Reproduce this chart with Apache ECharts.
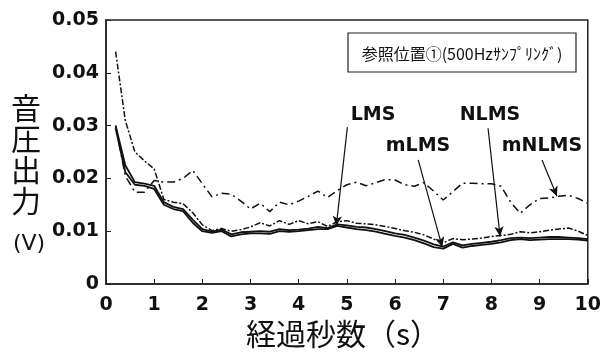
<!DOCTYPE html>
<html>
<head>
<meta charset="utf-8">
<script src="https://cdn.jsdelivr.net/npm/echarts@6/dist/echarts.min.js"></script>
<style>html,body{margin:0;padding:0;background:#fff}#c{width:604px;height:358px}</style>
</head>
<body>
<div id="c"></div>
<script>
var times = [0.2,0.4,0.6,0.8,1.0,1.2,1.4,1.6,1.8,2.0,2.2,2.4,2.6,2.8,3.0,3.2,3.4,3.6,3.8,4.0,4.2,4.4,4.6,4.8,5.0,5.2,5.4,5.6,5.8,6.0,6.2,6.4,6.6,6.8,7.0,7.2,7.4,7.6,7.8,8.0,8.2,8.4,8.6,8.8,9.0,9.2,9.4,9.6,9.8,10.0];
var lms = [0.0300,0.0225,0.0193,0.0190,0.0186,0.0155,0.0146,0.0142,0.0122,0.0104,0.0099,0.0103,0.0094,0.0098,0.0099,0.0100,0.0099,0.0104,0.0102,0.0103,0.0105,0.0108,0.0106,0.0113,0.0111,0.0108,0.0107,0.0104,0.0100,0.0096,0.0093,0.0088,0.0082,0.0075,0.0071,0.0079,0.0073,0.0076,0.0078,0.0080,0.0083,0.0087,0.0088,0.0087,0.0088,0.0089,0.0089,0.0088,0.0087,0.0085];
var mlms = [0.0295,0.0212,0.0188,0.0186,0.0180,0.0150,0.0142,0.0138,0.0116,0.0100,0.0097,0.0100,0.0090,0.0094,0.0096,0.0096,0.0095,0.0100,0.0099,0.0100,0.0102,0.0104,0.0104,0.0110,0.0107,0.0104,0.0102,0.0099,0.0095,0.0091,0.0088,0.0083,0.0077,0.0070,0.0067,0.0076,0.0069,0.0072,0.0074,0.0076,0.0079,0.0083,0.0085,0.0083,0.0084,0.0085,0.0085,0.0085,0.0084,0.0082];
var nlms = [0.0440,0.0310,0.0250,0.0233,0.0218,0.0160,0.0155,0.0152,0.0135,0.0112,0.0101,0.0105,0.0100,0.0103,0.0108,0.0116,0.0110,0.0120,0.0113,0.0120,0.0114,0.0118,0.0109,0.0118,0.0120,0.0115,0.0114,0.0112,0.0109,0.0105,0.0101,0.0098,0.0093,0.0085,0.0078,0.0086,0.0084,0.0085,0.0087,0.0090,0.0092,0.0094,0.0099,0.0097,0.0099,0.0102,0.0104,0.0106,0.0100,0.0092];
var mnlms = [0.0300,0.0205,0.0174,0.0174,0.0196,0.0193,0.0193,0.0200,0.0215,0.0190,0.0165,0.0172,0.0170,0.0157,0.0142,0.0153,0.0137,0.0155,0.0150,0.0157,0.0166,0.0176,0.0164,0.0177,0.0188,0.0193,0.0186,0.0192,0.0198,0.0197,0.0188,0.0185,0.0192,0.0176,0.0159,0.0175,0.0191,0.0191,0.0190,0.0190,0.0185,0.0155,0.0134,0.0150,0.0162,0.0163,0.0166,0.0168,0.0162,0.0153];
var xTicks = ['0','1','2','3','4','5','6','7','8','9','10'];
var yTicks = ['0','0.01','0.02','0.03','0.04','0.05'];
var seriesNames = ['LMS','mLMS','NLMS','mNLMS'];
var boxTitle = '参照位置①(500Hzｻﾝﾌﾟﾘﾝｸﾞ)';
var yName = ['音','圧','出','力'];
var yUnit = '(V)';
var xName = '経過秒数（s）';
// arrow annotations in data coordinates [from, to]
var arrows = [
  [[5.01,0.0297],[4.78,0.0110]],
  [[6.48,0.0235],[6.98,0.0070]],
  [[7.93,0.0295],[8.18,0.0090]],
  [[9.05,0.0235],[9.36,0.0166]]
];

function pairs(v){ return times.map(function(t,i){ return [t, v[i]]; }); }

var chart = echarts.init(document.getElementById('c'), null, {renderer:'canvas'});
var tickFont = {fontFamily:'DejaVu Sans', fontWeight:'bold', fontSize:19, color:'#111'};
var labelFont = {fontFamily:'DejaVu Sans', fontWeight:'bold', fontSize:19, fill:'#111'};
chart.setOption({
  animation:false,
  backgroundColor:'#fff',
  grid:{left:106, top:20, right:15, bottom:74, show:true, borderColor:'#222', borderWidth:1.5, backgroundColor:'transparent'},
  xAxis:{type:'value', min:0, max:10, interval:1,
    axisLine:{show:true, lineStyle:{color:'#222', width:1.5}},
    axisTick:{show:true, inside:true, length:5, lineStyle:{color:'#222', width:1}},
    splitLine:{show:false},
    axisLabel:Object.assign({margin:12, formatter:function(v){return xTicks[Math.round(v)];}}, tickFont)
  },
  yAxis:{type:'value', min:0, max:0.05, interval:0.01,
    axisLine:{show:true, lineStyle:{color:'#222', width:1.5}},
    axisTick:{show:true, inside:true, length:5, lineStyle:{color:'#222', width:1}},
    splitLine:{show:false},
    axisLabel:Object.assign({margin:7, formatter:function(v){return yTicks[Math.round(v*100)];}}, tickFont)
  },
  series:[
    {name:seriesNames[0], type:'line', data:pairs(lms), symbol:'none', lineStyle:{color:'#111', width:1.8, type:'solid'},
     markLine:{silent:true, symbol:['none','arrow'], symbolSize:[7,10], label:{show:false},
       lineStyle:{color:'#111', width:1.2, type:'solid'},
       data:arrows.map(function(a){ return [{coord:a[0]},{coord:a[1]}]; })}},
    {name:seriesNames[1], type:'line', data:pairs(mlms), symbol:'none', lineStyle:{color:'#111', width:1.8, type:'solid'}},
    {name:seriesNames[2], type:'line', data:pairs(nlms), symbol:'none', lineStyle:{color:'#111', width:1.5, type:[6,2,2,2]}},
    {name:seriesNames[3], type:'line', data:pairs(mnlms), symbol:'none', lineStyle:{color:'#111', width:1.5, type:[8,4,2,4]}}
  ],
  graphic:[
    {type:'rect', shape:{x:348, y:33, width:228, height:39}, style:{fill:'#fff', stroke:'#222', lineWidth:1.2}, z:10},
    {type:'text', x:462, y:54, z:11, style:{text:boxTitle, fontFamily:'Noto Sans CJK JP', fontSize:16, fill:'#111', textAlign:'center', textVerticalAlign:'middle'}},
    {type:'text', x:373, y:115, z:11, style:Object.assign({text:seriesNames[0], textAlign:'center', textVerticalAlign:'middle'}, labelFont)},
    {type:'text', x:418, y:146, z:11, style:Object.assign({text:seriesNames[1], textAlign:'center', textVerticalAlign:'middle'}, labelFont)},
    {type:'text', x:490, y:115, z:11, style:Object.assign({text:seriesNames[2], textAlign:'center', textVerticalAlign:'middle'}, labelFont)},
    {type:'text', x:542, y:146, z:11, style:Object.assign({text:seriesNames[3], textAlign:'center', textVerticalAlign:'middle'}, labelFont)},
    {type:'text', x:26, y:92, z:11, style:{text:yName.join('\n'), fontFamily:'Noto Sans CJK JP', fontWeight:400, fontSize:30, lineHeight:31, fill:'#111', textAlign:'center'}},
    {type:'text', x:29, y:244, z:11, style:{text:yUnit, fontFamily:'DejaVu Sans', fontSize:22, fill:'#111', textAlign:'center', textVerticalAlign:'middle'}},
    {type:'text', x:343, y:334, z:11, style:{text:xName, fontFamily:'Noto Sans CJK JP', fontWeight:400, fontSize:30, fill:'#111', textAlign:'center', textVerticalAlign:'middle'}}
  ]
});
</script>
</body>
</html>
